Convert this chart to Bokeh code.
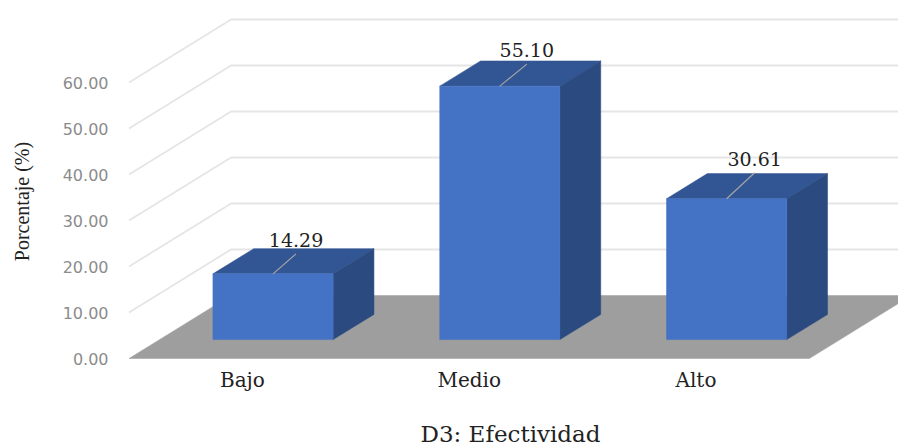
from math import pi

from bokeh.embed import file_html
from bokeh.models import ColumnDataSource, FixedTicker, Label, NumeralTickFormatter, Range1d
from bokeh.plotting import figure
from bokeh.resources import INLINE
from bokeh.core.properties import value

categories = ["Bajo", "Medio", "Alto"]
percentages = [14.29, 55.10, 30.61]
value_ticks = [0, 10, 20, 30, 40, 50, 60]

x_title = "D3: Efectividad"
y_title = "Porcentaje (%)"

# Page size and scale, in pixels per slot and pixels per percentage point.
WIDTH = 898
HEIGHT = 446
PX_PER_SLOT = 226.8
PX_PER_POINT = 4.6
ORIGIN_LEFT = 128.5
ORIGIN_TOP = 358
AXIS_LEFT = 118

# Oblique projection: one unit of depth moves a point right and up on the page.
DEPTH_X = 0.45
DEPTH_Y = 13.7
BAR_WIDTH = 0.53
BAR_DEPTH_FRONT = 0.30
BAR_DEPTH_BACK = 0.70

# Leader line run for each value label, in pixels.
LEADER_RUN = [23, 27, 28]
LEADER_RISE = [20, 22, 26]

FRONT = "#4472C4"
TOP = "#325593"
SIDE = "#2A4A80"
FLOOR = "#9E9E9E"
GRID = "#E5E5E5"
SERIF = "Liberation Serif"
WIDE_SERIF = "DejaVu Serif"
INK = "#222222"


def project(x, v, d):
    return x + DEPTH_X * d, v + DEPTH_Y * d


def face(*corners):
    points = [project(*c) for c in corners]
    return [p[0] for p in points], [p[1] for p in points]


# The frame fills the page; the axes are pinned inside it at fixed locations.
p = figure(
    width=WIDTH,
    height=HEIGHT,
    output_backend="svg",
    toolbar_location=None,
    min_border=0,
    x_range=Range1d(-ORIGIN_LEFT / PX_PER_SLOT, (WIDTH - ORIGIN_LEFT) / PX_PER_SLOT),
    y_range=Range1d(-(HEIGHT - ORIGIN_TOP) / PX_PER_POINT, ORIGIN_TOP / PX_PER_POINT),
    background_fill_color="white",
    border_fill_color="white",
    outline_line_color=None,
)
p.grid.visible = False

# Wall gridlines: up the side wall, then along the back wall.
right_end = len(categories) + 1
grid_xs, grid_ys = [], []
for t in value_ticks[1:]:
    xs, ys = face((0, t, 0), (0, t, 1), (right_end - DEPTH_X, t, 1))
    grid_xs.append(xs)
    grid_ys.append(ys)
p.multi_line(grid_xs, grid_ys, line_color=GRID, line_width=1.8)

# Floor of the chart box.
n = len(categories)
floor_x, floor_y = face((0, 0, 0), (n, 0, 0), (n, 0, 1), (0, 0, 1))
p.patch(floor_x, floor_y, fill_color=FLOOR, line_color=FLOOR, line_width=0.5)

# Three visible faces per bar.
top_xs, top_ys, side_xs, side_ys, front_xs, front_ys = [], [], [], [], [], []
for i, v in enumerate(percentages):
    x0 = i + 0.5 - BAR_WIDTH / 2
    x1 = i + 0.5 + BAR_WIDTH / 2
    f, b = BAR_DEPTH_FRONT, BAR_DEPTH_BACK
    xs, ys = face((x0, v, f), (x1, v, f), (x1, v, b), (x0, v, b))
    top_xs.append(xs)
    top_ys.append(ys)
    xs, ys = face((x1, 0, f), (x1, 0, b), (x1, v, b), (x1, v, f))
    side_xs.append(xs)
    side_ys.append(ys)
    xs, ys = face((x0, 0, f), (x1, 0, f), (x1, v, f), (x0, v, f))
    front_xs.append(xs)
    front_ys.append(ys)
p.patches(top_xs, top_ys, fill_color=TOP, line_color=TOP, line_width=0.5)
p.patches(side_xs, side_ys, fill_color=SIDE, line_color=SIDE, line_width=0.5)
p.patches(front_xs, front_ys, fill_color=FRONT, line_color=FRONT, line_width=0.5)

# Value labels with leader lines from the top front edge of each bar.
lead_xs, lead_ys, lab_x, lab_y, lab_text = [], [], [], [], []
for i, v in enumerate(percentages):
    sx, sy = project(i + 0.5, v, BAR_DEPTH_FRONT)
    ex = sx + LEADER_RUN[i] / PX_PER_SLOT
    ey = sy + LEADER_RISE[i] / PX_PER_POINT
    lead_xs.append([sx, ex])
    lead_ys.append([sy, ey])
    lab_x.append(ex)
    lab_y.append(ey)
    lab_text.append(f"{v:.2f}")
p.multi_line(lead_xs, lead_ys, line_color="#A6A6A6", line_width=1.2)
p.text(
    x="x",
    y="y",
    text="t",
    source=ColumnDataSource(dict(x=lab_x, y=lab_y, t=lab_text)),
    text_font=value(WIDE_SERIF),
    text_font_size="19px",
    text_color=INK,
    text_align="center",
    text_baseline="bottom",
    y_offset=-7,
)

# Value axis, pinned just left of the box.
p.yaxis.fixed_location = (AXIS_LEFT - ORIGIN_LEFT) / PX_PER_SLOT
p.yaxis.ticker = FixedTicker(ticks=value_ticks)
p.yaxis.formatter = NumeralTickFormatter(format="0.00")
p.yaxis.axis_line_color = None
p.yaxis.major_tick_line_color = None
p.yaxis.minor_tick_line_color = None
p.yaxis.major_tick_out = 0
p.yaxis.major_label_standoff = 10
p.yaxis.major_label_text_font = "DejaVu Sans"
p.yaxis.major_label_text_font_size = "16px"
p.yaxis.major_label_text_color = "#8C8C8C"

# Category axis with labels centred under the front of each slot.
p.xaxis.fixed_location = 0
p.xaxis.ticker = FixedTicker(ticks=[i + 0.5 for i in range(n)])
p.xaxis.major_label_overrides = {i + 0.5: c for i, c in enumerate(categories)}
p.xaxis.axis_line_color = None
p.xaxis.major_tick_line_color = None
p.xaxis.minor_tick_line_color = None
p.xaxis.major_tick_out = 0
p.xaxis.major_label_standoff = 9
p.xaxis.major_label_text_font = WIDE_SERIF
p.xaxis.major_label_text_font_size = "20px"
p.xaxis.major_label_text_color = INK

# Axis titles, as labels placed from the page's bottom left corner.
p.add_layout(
    Label(
        x=21,
        y=245,
        x_units="screen",
        y_units="screen",
        text=y_title,
        angle=pi / 2,
        text_font=SERIF,
        text_font_size="20px",
        text_color=INK,
        text_align="center",
        text_baseline="middle",
    )
)
p.add_layout(
    Label(
        x=510,
        y=13,
        x_units="screen",
        y_units="screen",
        text=x_title,
        text_font=WIDE_SERIF,
        text_font_size="23px",
        text_color=INK,
        text_align="center",
        text_baseline="middle",
    )
)

open("out.html", "w").write(file_html(p, INLINE))
